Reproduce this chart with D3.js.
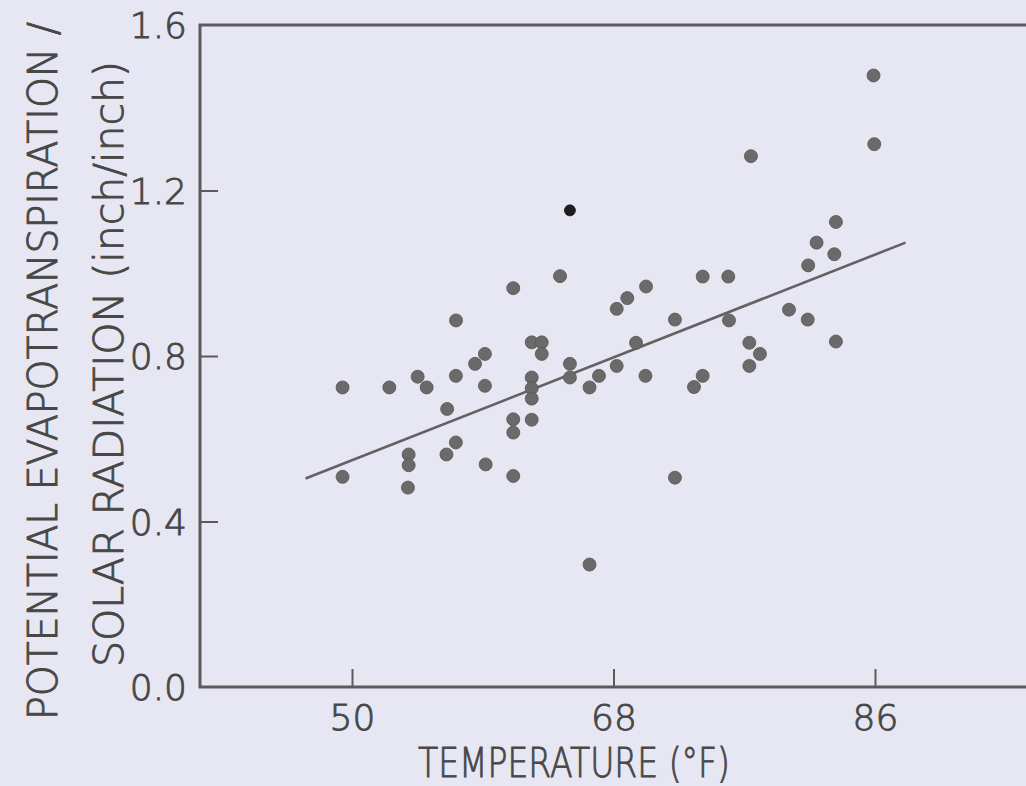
<!DOCTYPE html>
<html>
<head>
<meta charset="utf-8">
<script src="https://cdn.jsdelivr.net/npm/d3@7"></script>
<style>
  html, body { margin: 0; padding: 0; background: #e7e7f3; }
  svg { display: block; }
  text { font-family: "DejaVu Sans", sans-serif; font-weight: 200; fill: #474747; stroke: #474747; stroke-width: 0.9px; }
</style>
</head>
<body>
<svg id="chart" width="1026" height="786"></svg>
<script>
// Mean temperature (°F) for each observation
const temperature = [
  49.35, 49.35, 52.57, 54.52, 55.14, 57.15, 59.15, 58.47, 59.15, 56.55,
  62.37, 62.37, 62.37, 62.37, 62.37, 61.10, 61.10, 57.15, 56.50, 53.90,
  53.90, 53.85, 59.20, 61.10, 65.00, 61.10, 64.32, 68.22, 68.95, 70.24,
  74.14, 75.90, 72.23, 75.95, 69.55, 63.06, 63.06, 65.00, 65.00, 67.00,
  68.22, 66.35, 70.20, 74.14, 73.54, 66.35, 72.23, 85.90, 85.95, 77.46,
  83.31, 81.98, 83.20, 81.40, 80.08, 81.37, 77.35, 78.08, 77.35, 83.31,
  57.16
];
// Ratio of potential evapotranspiration to solar radiation (inch/inch)
const ratio = [
  0.724, 0.508, 0.724, 0.750, 0.724, 0.752, 0.805, 0.781, 0.728, 0.672,
  0.833, 0.748, 0.722, 0.697, 0.646, 0.647, 0.615, 0.591, 0.562, 0.562,
  0.536, 0.482, 0.538, 0.510, 1.152, 0.964, 0.993, 0.914, 0.940, 0.968,
  0.992, 0.992, 0.888, 0.886, 0.832, 0.833, 0.805, 0.781, 0.748, 0.752,
  0.776, 0.724, 0.752, 0.752, 0.725, 0.296, 0.506, 1.478, 1.312, 1.283,
  1.124, 1.074, 1.046, 1.019, 0.912, 0.888, 0.832, 0.805, 0.776, 0.835,
  0.886
];
// The single highlighted observation (drawn darker)
const highlightIndex = [24];

// Fitted regression line end points
const fitTemperature = [46.8, 88.1];
const fitRatio = [0.504, 1.074];

// Tick values
const xTicks = [50, 68, 86];
const yTicks = [0.0, 0.4, 0.8, 1.2, 1.6];

const svg = d3.select("#chart");
const W = 1026;
const left = 200, bottom = 687;

const x = d3.scaleLinear().domain([50, 86]).range([352, 875]);
const y = d3.scaleLinear().domain([0, 1.6]).range([bottom, 25]);

const axisColor = "#5a5a5a";
const textFont = "'DejaVu Sans', sans-serif";

// Frame: left spine, bottom axis and top border
svg.append("path")
  .attr("d", `M${W},${y(1.6)} H${left} V${bottom} H${W}`)
  .attr("fill", "none")
  .attr("stroke", axisColor)
  .attr("stroke-width", 3);

// Shared look for tick labels
function styleTickText(sel) {
  sel.style("font-size", "36px")
    .style("font-family", textFont)
    .style("font-weight", 200)
    .attr("fill", "#474747")
    .attr("stroke", "#474747")
    .attr("stroke-width", 0.9);
}

// X axis with inward ticks
const xAxis = svg.append("g")
  .attr("transform", `translate(0,${bottom})`)
  .call(d3.axisBottom(x).tickValues(xTicks).tickSize(-18).tickPadding(0).tickFormat(d3.format("d")));
xAxis.select(".domain").remove();
xAxis.selectAll(".tick line").attr("stroke", axisColor).attr("stroke-width", 2);
xAxis.selectAll(".tick text")
  .attr("y", 43)
  .attr("dy", null)
  .call(styleTickText);

// Y axis with inward ticks
const yAxis = svg.append("g")
  .attr("transform", `translate(${left},0)`)
  .call(d3.axisLeft(y).tickValues(yTicks).tickSize(-18).tickPadding(0).tickFormat(d3.format(".1f")));
yAxis.select(".domain").remove();
yAxis.selectAll(".tick line").attr("stroke", axisColor).attr("stroke-width", 2)
  .attr("display", d => (d === 0 || d === 1.6) ? "none" : null);
yAxis.selectAll(".tick text")
  .attr("x", -13)
  .attr("dy", "0.36em")
  .call(styleTickText);

// Regression line
svg.append("line")
  .attr("x1", x(fitTemperature[0])).attr("y1", y(fitRatio[0]))
  .attr("x2", x(fitTemperature[1])).attr("y2", y(fitRatio[1]))
  .attr("stroke", "#626262")
  .attr("stroke-width", 2.6);

// Observations
const pts = temperature.map((t, i) => ({ t, r: ratio[i], hi: highlightIndex.includes(i) }));
svg.append("g").selectAll("circle")
  .data(pts)
  .join("circle")
  .attr("cx", d => x(d.t))
  .attr("cy", d => y(d.r))
  .attr("r", d => d.hi ? 5.5 : 6.5)
  .attr("fill", d => d.hi ? "#1e1e1e" : "#6a6a6a")
  .attr("stroke", d => d.hi ? "#111" : "#555")
  .attr("stroke-width", 0.8);

// Axis titles
svg.append("text")
  .attr("x", 574).attr("y", 777)
  .attr("text-anchor", "middle")
  .attr("textLength", 312)
  .attr("lengthAdjust", "spacingAndGlyphs")
  .style("font-size", "40px")
  .text("TEMPERATURE (°F)");

svg.append("text")
  .attr("transform", "translate(57,371) rotate(-90)")
  .attr("text-anchor", "middle")
  .attr("textLength", 698)
  .attr("lengthAdjust", "spacingAndGlyphs")
  .style("font-size", "40px")
  .text("POTENTIAL EVAPOTRANSPIRATION /");

svg.append("text")
  .attr("transform", "translate(123,364) rotate(-90)")
  .attr("text-anchor", "middle")
  .attr("textLength", 606)
  .attr("lengthAdjust", "spacingAndGlyphs")
  .style("font-size", "40px")
  .text("SOLAR RADIATION (inch/inch)");
</script>
</body>
</html>
